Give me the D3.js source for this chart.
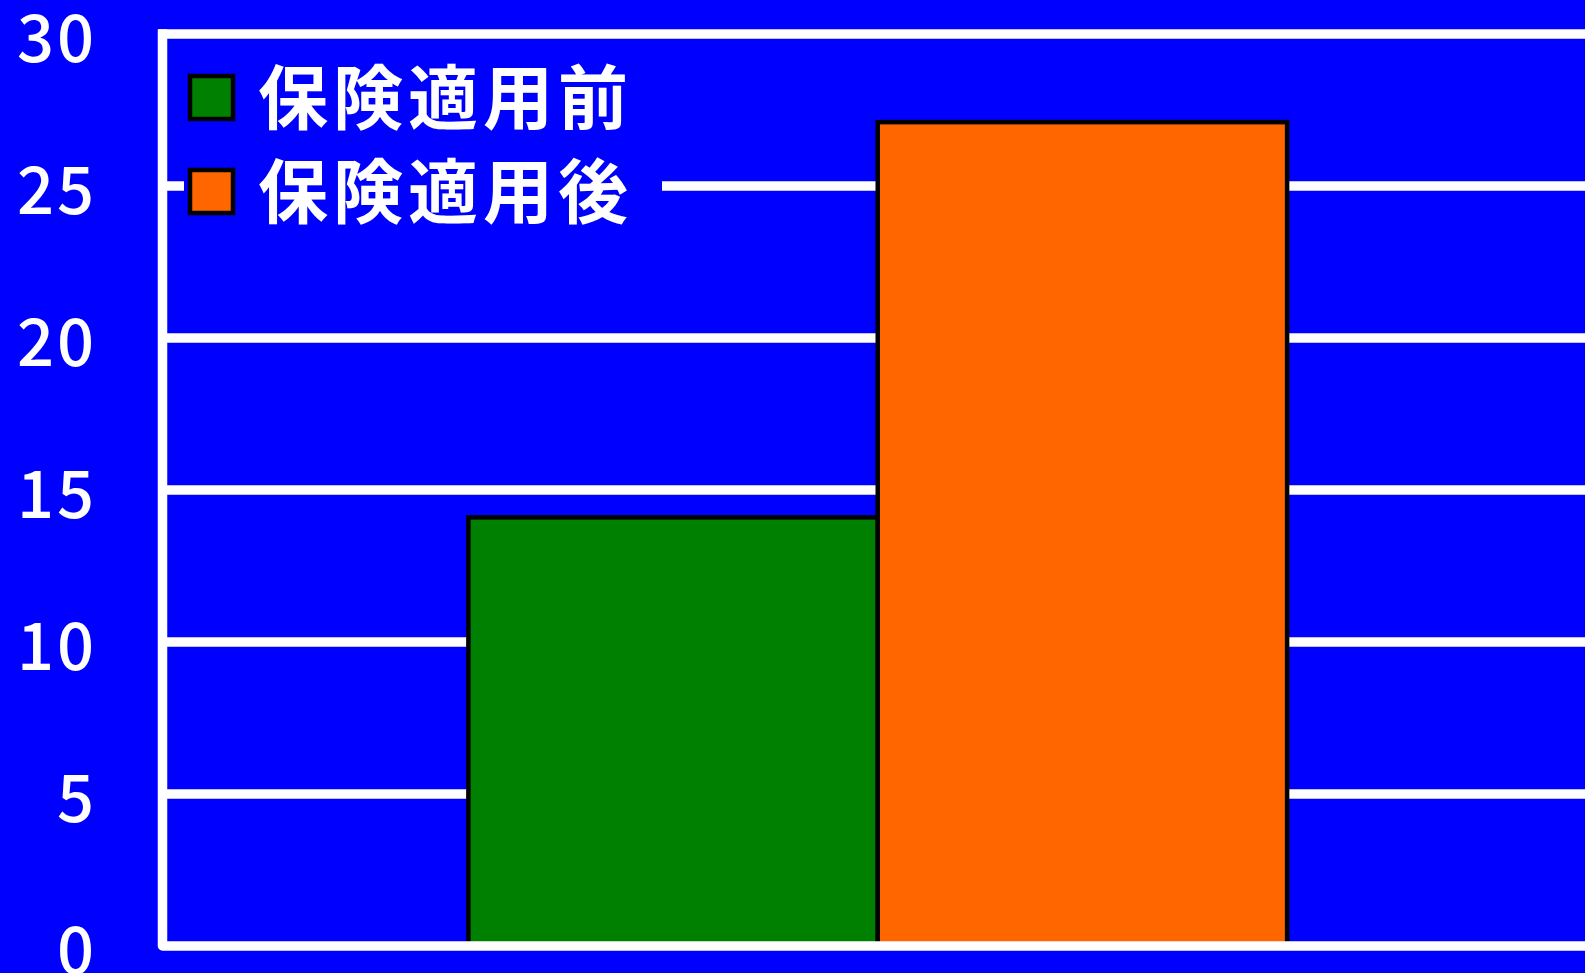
<!DOCTYPE html>
<html>
<head>
<meta charset="utf-8">
<script src="https://cdn.jsdelivr.net/npm/d3@7"></script>
<style>
html,body{margin:0;padding:0;background:#0000FF;overflow:hidden;}
svg{display:block;}
</style>
</head>
<body>
<svg id="chart" width="1585" height="973"></svg>
<script>
const categories = ["全体"];
const seriesNames = ["保険適用前", "保険適用後"];
const seriesColors = ["#008000", "#FF6600"];
const valuesBefore = [14.1];
const valuesAfter = [27.1];
const yTicks = [0, 5, 10, 15, 20, 25, 30];

const W = 1585, H = 973;
const svg = d3.select("#chart");
svg.append("rect").attr("width", W).attr("height", H).attr("fill", "#0000FF");

const plotLeft = 162.5, plotRight = 1593;
const y = d3.scaleLinear().domain([0, 30]).range([946, 34]);
const x0 = d3.scaleBand().domain(categories).range([plotLeft, plotRight]).paddingOuter(0.272).paddingInner(0.272);
const x1 = d3.scaleBand().domain(seriesNames).range([0, x0.bandwidth()]).padding(0);

const data = categories.map((c, i) => ({cat: c, vals: [valuesBefore[i], valuesAfter[i]]}));

// gridlines
svg.append("g").selectAll("line").data(yTicks.filter(t => t > 0)).join("line")
  .attr("x1", plotLeft - 4).attr("x2", W)
  .attr("y1", d => y(d)).attr("y2", d => y(d))
  .attr("stroke", "#fff").attr("stroke-width", 9.5);

// bars
const g = svg.append("g");
data.forEach(d => {
  g.selectAll(null).data(d.vals.map((v, k) => ({v, k}))).join("rect")
    .attr("x", e => x0(d.cat) + x1(seriesNames[e.k]))
    .attr("y", e => y(e.v))
    .attr("width", x1.bandwidth())
    .attr("height", e => y(0) - y(e.v))
    .attr("fill", e => seriesColors[e.k])
    .attr("stroke", "#000").attr("stroke-width", 4.5);
});

// axis lines (y axis + baseline)
svg.append("path")
  .attr("d", `M${plotLeft},${y(30) - 4.75}V${y(0)}H${W}`)
  .attr("fill", "none").attr("stroke", "#fff").attr("stroke-width", 9.5)
  .attr("stroke-linejoin", "round");

// y tick labels
const yAxis = d3.axisLeft(y).tickValues(yTicks).tickSize(0).tickPadding(0);
const ax = svg.append("g").attr("transform", "translate(97,0)").call(yAxis);
ax.select(".domain").remove();
ax.selectAll("text")
  .attr("fill", "#fff")
  .attr("font-family", "'Noto Sans CJK JP', 'Liberation Sans', sans-serif")
  .attr("font-size", 65)
  .attr("font-weight", 500)
  .attr("letter-spacing", 3)
  .attr("dy", null)
  .attr("y", 27)
  .attr("text-anchor", "end");

// legend
const legend = svg.append("g");
legend.append("rect").attr("x", 184).attr("y", 58).attr("width", 478).attr("height", 175).attr("fill", "#0000FF");
seriesNames.forEach((name, i) => {
  const cy = 97.5 + i * 94;
  legend.append("rect").attr("x", 190).attr("y", cy - 21.5).attr("width", 43).attr("height", 43)
    .attr("fill", seriesColors[i]).attr("stroke", "#000").attr("stroke-width", 4.5);
  legend.append("text").attr("x", 258).attr("y", cy + 26.5)
    .attr("fill", "#fff")
    .attr("font-family", "'Noto Sans CJK JP', sans-serif")
    .attr("font-size", 70).attr("font-weight", 700).attr("letter-spacing", 5)
    .text(name);
});
</script>
</body>
</html>
